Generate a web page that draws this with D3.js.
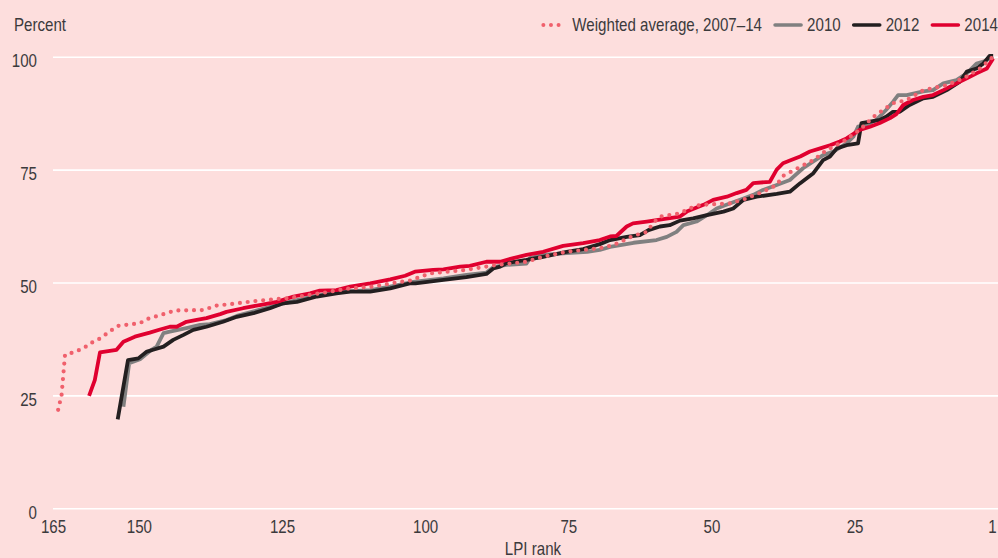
<!DOCTYPE html>
<html>
<head>
<meta charset="utf-8">
<script src="https://cdn.jsdelivr.net/npm/d3@7/dist/d3.min.js"></script>
<style>
    html, body { margin: 0; padding: 0; background: #fddedd; }
    svg text { font-family: "Liberation Sans", Arial, sans-serif; fill: #3b3a3c; }
</style>
</head>
<body>
<div id="chart"></div>
<script>
// [LPI rank, percent]
var weightedAvg = [[164.1,21.8],[163.5,25.1],[162.9,34.0],[161.5,34.5],[159.7,35.4],[158.5,36.5],[156.8,37.6],[154.7,39.5],[153.6,40.4],[149.8,41.0],[148.6,41.9],[145.7,43.0],[143.7,43.8],[138.8,43.9],[136.4,44.9],[134.1,45.2],[128.9,46.0],[124.2,46.5],[118.4,47.6],[113.1,48.7],[109.1,49.1],[105.0,50.0],[102.7,50.4],[99.2,52.0],[92.8,52.8],[87.5,53.9],[85.2,54.2],[82.3,54.6],[79.4,55.7],[75.3,56.8],[69.5,57.6],[67.1,58.3],[63.7,60.3],[61.3,61.2],[60.2,63.1],[59.0,64.6],[55.5,65.3],[53.8,66.4],[52.0,67.2],[46.8,67.5],[43.9,68.6],[41.0,70.1],[38.6,71.6],[37.5,73.6],[34.5,75.6],[32.2,77.1],[29.9,79.3],[27.0,81.2],[24.1,83.8],[21.7,86.7],[18.3,89.7],[15.9,90.4],[13.0,92.6],[8.9,93.7],[6.0,95.2],[3.1,97.4],[0.8,100]];

var y2010 = [[152.7,22.5],[151.7,32.1],[149.8,33.0],[147.8,35.1],[146.9,35.8],[145.7,38.8],[144.6,39.1],[141.7,39.9],[139.3,40.6],[137.6,40.8],[134.7,41.7],[132.9,42.6],[125.9,45.0],[122.4,46.1],[118.4,47.2],[114.3,48.0],[109.6,48.3],[106.1,49.1],[102.7,50.0],[101.7,50.2],[96.8,50.9],[92.8,51.7],[89.3,52.2],[88.1,53.4],[85.8,53.9],[82.3,54.2],[81.7,55.4],[79.4,56.1],[75.3,56.5],[71.7,56.8],[69.5,57.2],[67.7,57.9],[63.6,58.8],[59.6,59.4],[57.8,60.1],[56.1,61.2],[54.9,62.7],[52.6,63.5],[50.8,64.9],[49.1,66.4],[46.8,67.5],[44.4,68.6],[42.7,69.4],[41.0,70.5],[38.6,71.6],[36.3,72.7],[35.7,73.4],[34.0,75.3],[32.2,76.8],[30.5,78.2],[28.7,79.0],[26.4,80.8],[25.2,82.3],[24.4,84.5],[22.9,84.9],[21.2,86.0],[19.5,88.2],[18.3,90.0],[17.4,91.5],[15.9,91.5],[13.0,92.3],[11.3,92.6],[9.5,94.1],[7.2,94.8],[5.4,96.3],[3.7,98.5],[2.5,98.9],[1.4,99.6],[0.8,100]];

var y2012 = [[153.7,19.7],[151.9,32.8],[150.1,33.2],[148.6,34.7],[147.5,35.1],[145.7,35.8],[144.0,37.3],[142.2,38.4],[140.5,39.5],[138.2,40.2],[135.3,41.3],[132.9,42.4],[130.0,43.2],[127.1,44.3],[124.8,45.4],[122.4,45.7],[118.9,46.9],[115.5,47.6],[113.1,48.0],[109.6,48.0],[106.1,48.7],[102.7,49.8],[101.7,49.8],[96.8,50.6],[92.8,51.2],[89.3,51.9],[88.1,53.1],[86.9,53.5],[85.8,54.3],[82.3,55.0],[79.4,55.7],[75.3,56.8],[72.4,57.4],[69.5,58.5],[67.7,59.4],[64.8,60.1],[62.5,60.5],[61.0,61.6],[59.0,62.4],[57.3,62.7],[55.5,63.7],[53.2,64.2],[50.8,64.9],[47.9,65.7],[46.2,66.4],[44.4,68.3],[42.1,69.0],[38.6,69.6],[36.3,70.1],[34.5,72.0],[32.2,74.2],[30.5,77.1],[29.3,77.9],[28.1,79.7],[26.4,80.4],[24.4,80.8],[23.8,85.3],[22.3,85.6],[20.6,86.0],[19.5,86.7],[18.3,87.8],[17.1,87.8],[15.4,89.3],[13.0,90.8],[11.3,91.1],[8.9,92.6],[6.6,94.5],[5.4,96.7],[3.7,97.4],[2.5,98.5],[1.4,100.2],[0.8,100.2]];

var y2014 = [[158.7,24.9],[157.7,28.4],[156.8,34.5],[153.9,35.1],[152.7,36.9],[150.7,38.0],[148.1,38.9],[146.3,39.6],[144.6,40.2],[143.4,40.2],[141.7,41.3],[139.9,41.7],[138.2,42.1],[135.8,43.0],[134.7,43.5],[131.8,44.3],[128.9,45.0],[125.9,45.7],[123.0,46.9],[120.1,47.6],[118.4,48.2],[115.5,48.3],[113.1,49.1],[109.6,49.8],[106.1,50.7],[103.5,51.5],[101.8,52.4],[98.6,52.8],[96.8,52.9],[93.9,53.5],[92.2,53.7],[89.3,54.6],[86.9,54.6],[84.6,55.4],[82.3,56.1],[79.4,56.8],[75.9,58.1],[72.4,58.7],[69.5,59.4],[67.7,60.2],[66.6,60.3],[64.8,62.4],[63.7,63.1],[61.3,63.5],[59.6,63.8],[55.5,64.6],[54.3,65.7],[51.4,67.2],[49.7,68.3],[47.3,69.0],[45.6,69.8],[43.9,70.5],[42.7,72.0],[39.8,72.3],[38.6,75.0],[37.5,76.4],[36.3,77.0],[34.5,77.9],[32.8,79.0],[31.0,79.7],[29.3,80.4],[27.6,81.2],[26.4,81.9],[24.1,83.8],[22.3,84.5],[20.6,85.3],[18.8,86.4],[17.7,87.3],[16.5,89.3],[14.8,90.4],[13.0,91.1],[11.3,91.5],[9.5,92.6],[7.2,94.1],[5.4,95.2],[3.7,96.3],[1.9,97.4],[0.8,99.6]];

var yTicks = [0, 25, 50, 75, 100];
var xTicks = [165, 150, 125, 100, 75, 50, 25, 1];

var legendNames = ["Weighted average, 2007\u201314", "2010", "2012", "2014"];

var W = 998, H = 558;
var plotLeft = 53, plotRight = 992, plotTop = 56.7, plotBottom = 508.3;
var squeeze = 0.84; // condensed look of the original typeface

var svg = d3.select("#chart").append("svg")
    .attr("width", W)
    .attr("height", H);

svg.append("rect").attr("width", W).attr("height", H).attr("fill", "#fddedd");

var x = d3.scaleLinear().domain([165, 1]).range([plotLeft, plotRight]);
var y = d3.scaleLinear().domain([0, 100]).range([plotBottom, plotTop]);

// narrow a text horizontally around its own anchor point
function narrow(sel) {
    sel.each(function () {
        var t = d3.select(this);
        var tx = +t.attr("x") || 0;
        t.attr("x", tx / squeeze).attr("transform", "scale(" + squeeze + ",1)");
    });
}

// gridlines + y labels
var yAxis = d3.axisLeft(y)
    .tickValues(yTicks)
    .tickSize(-(W - plotLeft))
    .tickPadding(16);

var gy = svg.append("g")
    .attr("transform", "translate(" + plotLeft + ",0)")
    .call(yAxis);
gy.select(".domain").remove();
gy.selectAll(".tick line").attr("stroke", "#ffffff").attr("stroke-width", 1.6);
gy.selectAll(".tick text").attr("dy", "0.55em");

var xAxis = d3.axisBottom(x)
    .tickValues(xTicks)
    .tickSize(0)
    .tickPadding(12.4)
    .tickFormat(d3.format("d"));

var gx = svg.append("g")
    .attr("transform", "translate(0," + plotBottom + ")")
    .call(xAxis);
gx.select(".domain").remove();

svg.selectAll(".tick text")
    .attr("font-family", null)
    .attr("font-size", 18)
    .attr("fill", null)
    .call(narrow);
gy.attr("font-family", null).attr("font-size", null);
gx.attr("font-family", null).attr("font-size", null);

svg.append("text")
    .attr("x", 14).attr("y", 31.5)
    .attr("font-size", 18)
    .text("Percent")
    .call(narrow);

svg.append("text")
    .attr("x", 533).attr("y", 555)
    .attr("text-anchor", "middle")
    .attr("font-size", 18)
    .text("LPI rank")
    .call(narrow);

var line = d3.line()
    .x(function (d) { return x(d[0]); })
    .y(function (d) { return y(d[1]); });

var series = [
    { data: y2010, color: "#808080", dash: null, width: 3.8 },
    { data: y2012, color: "#231f20", dash: null, width: 3.8 },
    { data: y2014, color: "#e0002f", dash: null, width: 3.8 },
    { data: weightedAvg, color: "#f0606c", dash: "0 7.8", width: 4.2 }
];

series.forEach(function (s) {
    svg.append("path")
        .datum(s.data)
        .attr("d", line)
        .attr("fill", "none")
        .attr("stroke", s.color)
        .attr("stroke-width", s.width)
        .attr("stroke-linejoin", "round")
        .attr("stroke-linecap", s.dash ? "round" : "butt")
        .attr("stroke-dasharray", s.dash);
});

// legend, laid out from the right edge
var legendItems = [
    { name: legendNames[0], color: "#f0606c", dash: "0 7.6", width: 4 },
    { name: legendNames[1], color: "#808080", dash: null, width: 3.6 },
    { name: legendNames[2], color: "#231f20", dash: null, width: 3.6 },
    { name: legendNames[3], color: "#e0002f", dash: null, width: 3.6 }
];

var legend = svg.append("g");
var cursor = W;
for (var i = legendItems.length - 1; i >= 0; i--) {
    var it = legendItems[i];
    var t = legend.append("text")
        .attr("y", 31.5)
        .attr("font-size", 18)
        .text(it.name);
    var w = t.node().getComputedTextLength() * squeeze;
    t.attr("x", cursor - w).call(narrow);
    var symEnd = cursor - w - 6;
    var symStart = symEnd - 26;
    if (it.dash) {
        symStart = symEnd - 23;
        symEnd = symEnd - 1;
    }
    legend.append("line")
        .attr("x1", symStart).attr("x2", symEnd)
        .attr("y1", 25).attr("y2", 25)
        .attr("stroke", it.color)
        .attr("stroke-width", it.width)
        .attr("stroke-linecap", "round")
        .attr("stroke-dasharray", it.dash);
    cursor = symStart - 13;
}
</script>
</body>
</html>
